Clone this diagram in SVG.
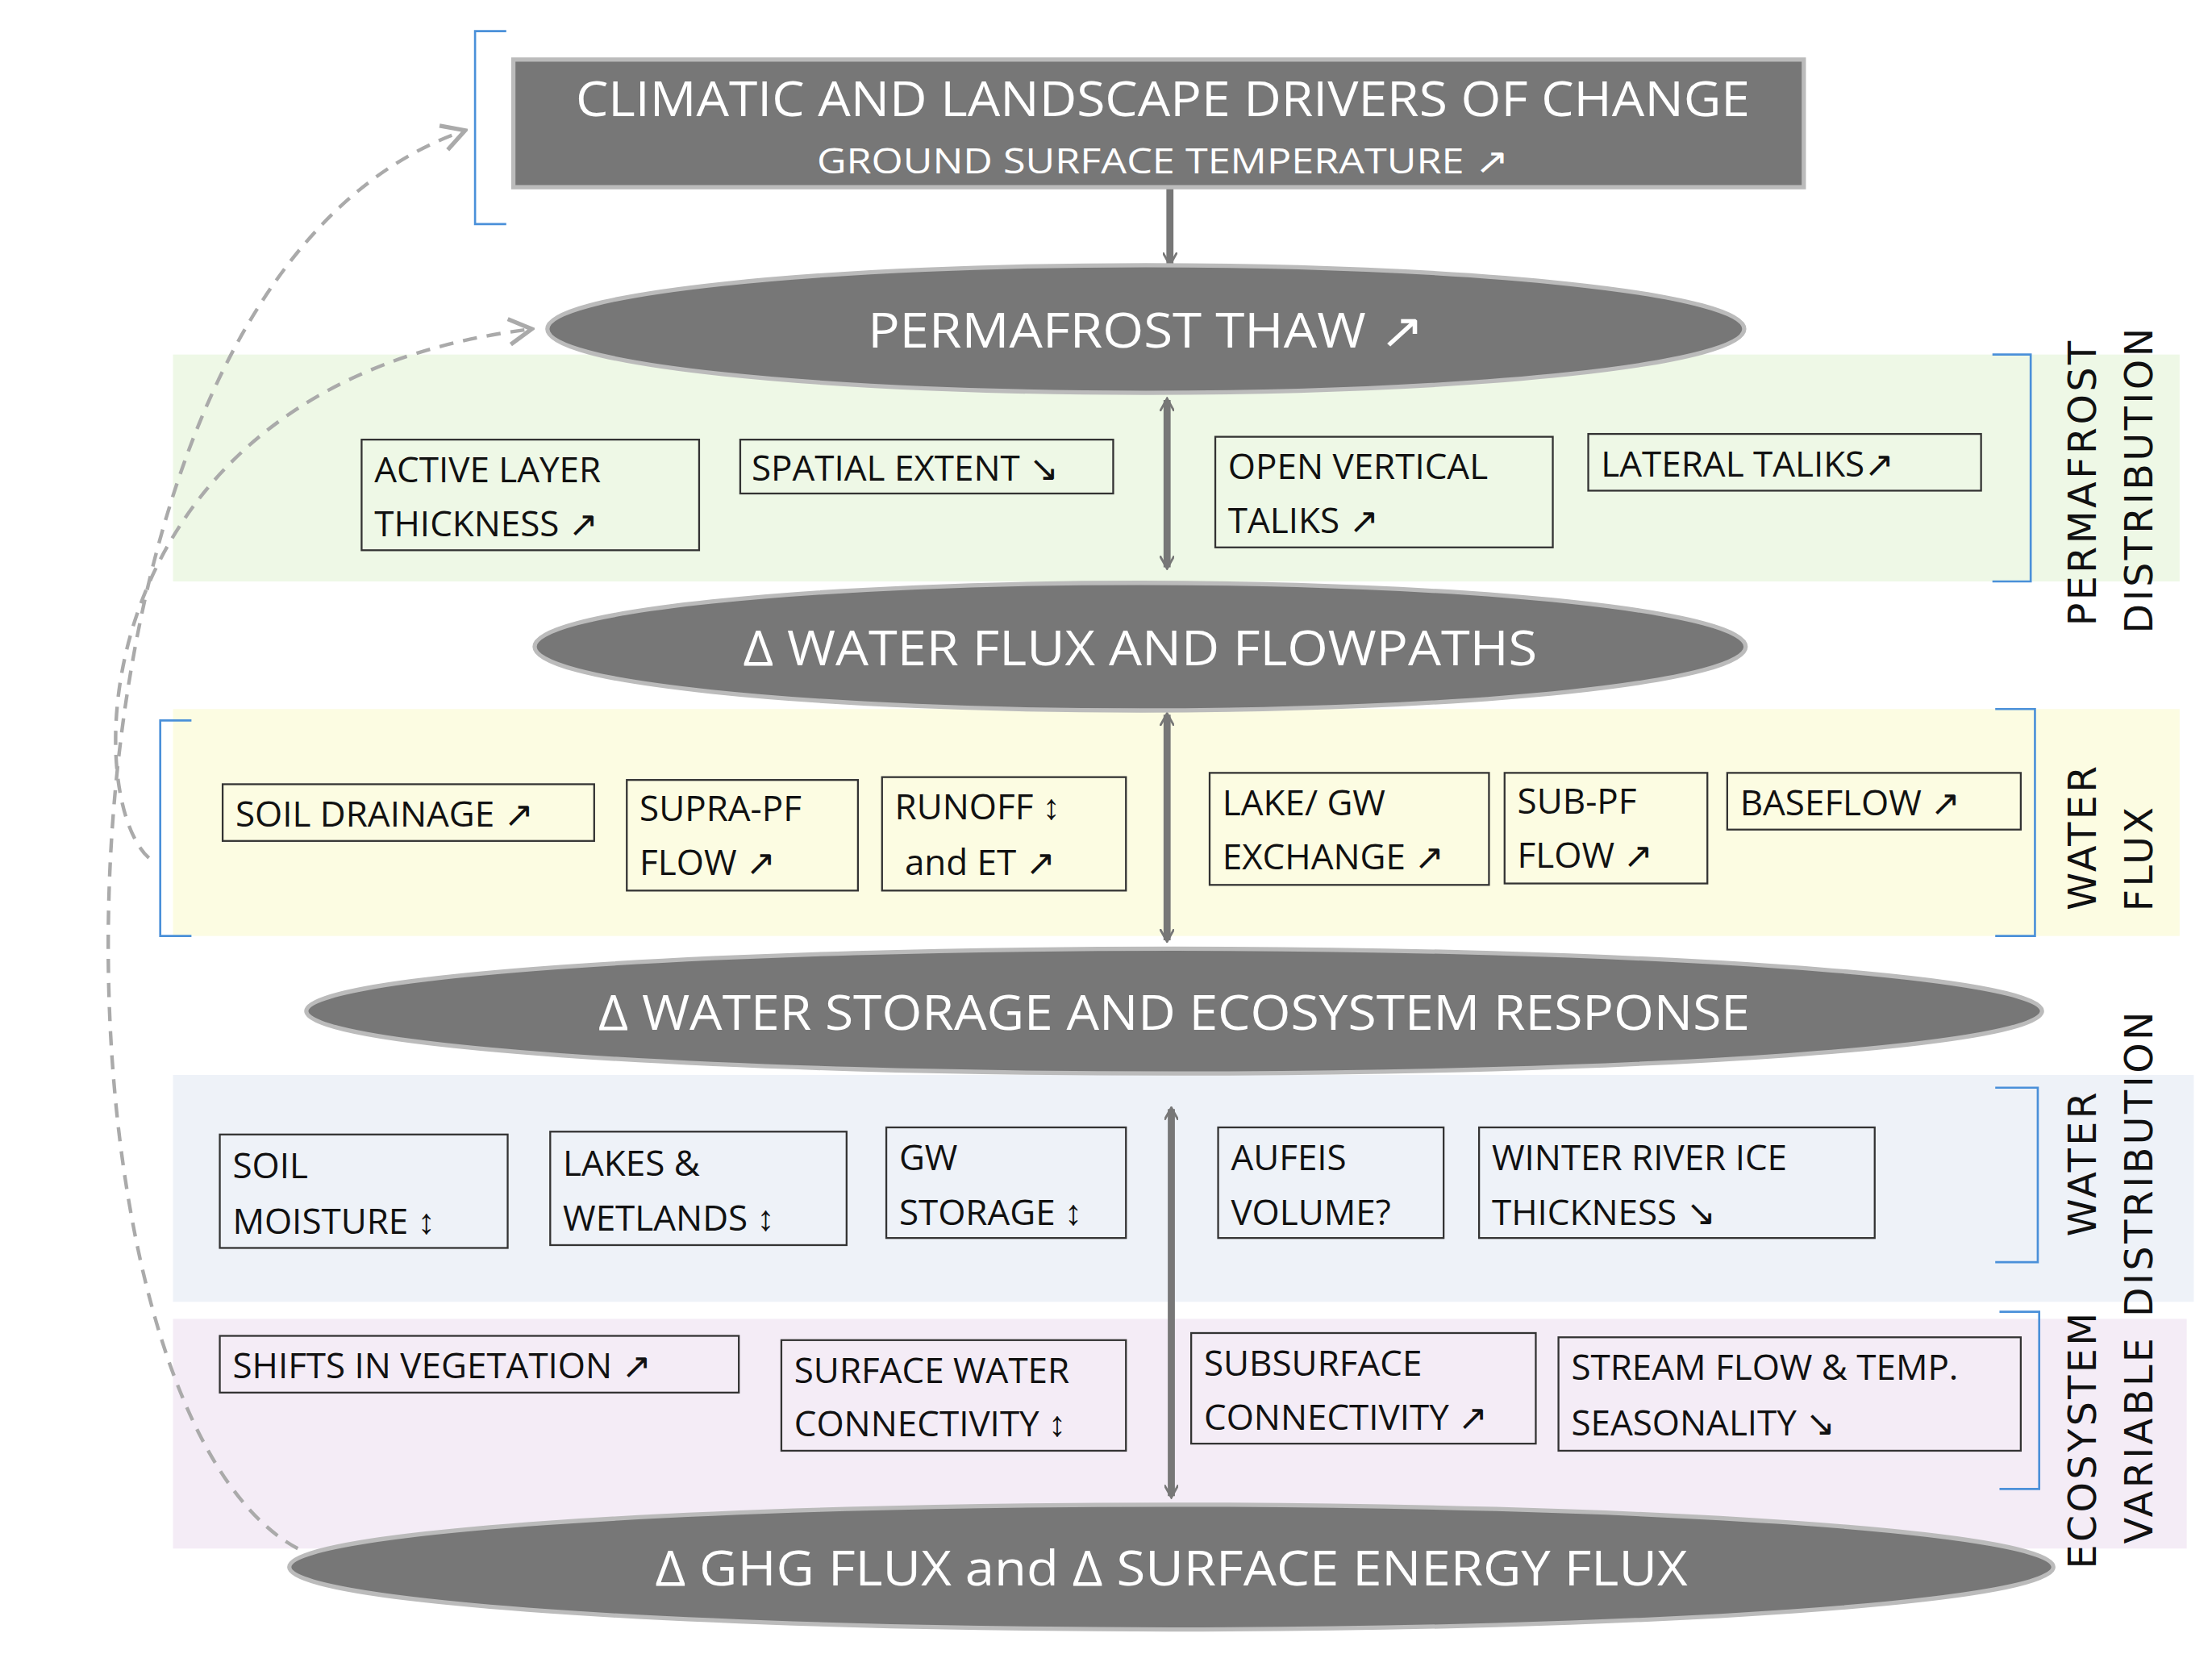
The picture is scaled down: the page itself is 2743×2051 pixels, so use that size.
<svg xmlns="http://www.w3.org/2000/svg" width="2743" height="2051" viewBox="0 0 2743 2051">
<style>
.n{fill:#777;stroke:#bbb;stroke-width:3}
.t{font-family:"Open Sans",sans-serif;fill:#fff;text-anchor:middle}
.b{fill:#fff;fill-opacity:0;stroke:#333;stroke-width:1.3}
.bt{font-family:"Open Sans",sans-serif;font-size:25px;fill:#111}
.side{font-family:"DejaVu Sans",sans-serif;font-size:27px;fill:#111;text-anchor:middle;letter-spacing:2px}
.br{fill:none;stroke:#4a90d9;stroke-width:1.5}
.ar{stroke:#777;stroke-width:5;fill:none}
.d{stroke:#aaa;stroke-width:2.5;fill:none;stroke-dasharray:10 7}
</style>
<defs>
<marker id="h" markerWidth="10" markerHeight="10" refX="8" refY="5" orient="auto-start-reverse" markerUnits="userSpaceOnUse" viewBox="0 0 10 10"><path d="M0,0 L9,5 L0,10" fill="none" stroke="#777" stroke-width="1.6"/></marker>
<marker id="hd" markerWidth="22" markerHeight="22" refX="20" refY="11" orient="auto" markerUnits="userSpaceOnUse"><path d="M4,2 L20,11 L4,20" fill="none" stroke="#aaa" stroke-width="3"/></marker>
</defs>
<g transform="scale(1.7585)">
<g id="bands">
<rect x="122" y="250" width="1415" height="160" fill="#eef8e6"/>
<rect x="122" y="500" width="1415" height="160" fill="#fcfce2"/>
<rect x="122" y="758" width="1425" height="160" fill="#eef2f8"/>
<rect x="122" y="930" width="1420" height="162" fill="#f4ecf6"/>
</g>
<g id="brackets">
<path class="br" d="M357,22 H335 V158 H357"/>
<path class="br" d="M1405,250 H1432 V410 H1405"/>
<path class="br" d="M135,508 H113 V660 H135"/>
<path class="br" d="M1407,500 H1435 V660 H1407"/>
<path class="br" d="M1407,767 H1437 V890 H1407"/>
<path class="br" d="M1410,925 H1438 V1050 H1410"/>
<text class="side" transform="translate(1478,340) rotate(-90)">PERMAFROST</text>
<text class="side" transform="translate(1518,338) rotate(-90)">DISTRIBUTION</text>
<text class="side" transform="translate(1478,590) rotate(-90)">WATER</text>
<text class="side" transform="translate(1518,605) rotate(-90)">FLUX</text>
<text class="side" transform="translate(1478,820) rotate(-90)">WATER</text>
<text class="side" transform="translate(1518,820) rotate(-90)">DISTRIBUTION</text>
<text class="side" transform="translate(1478,1015) rotate(-90)">ECOSYSTEM</text>
<text class="side" transform="translate(1518,1015) rotate(-90)">VARIABLE</text>
</g>
<g id="connectors">
<line class="ar" x1="825" y1="132" x2="825" y2="186" marker-end="url(#h)"/>
<line class="ar" x1="823" y1="282" x2="823" y2="400" marker-start="url(#h)" marker-end="url(#h)"/>
<line class="ar" x1="823" y1="504" x2="823" y2="663" marker-start="url(#h)" marker-end="url(#h)"/>
<line class="ar" x1="826" y1="782" x2="826" y2="1055" marker-start="url(#h)" marker-end="url(#h)"/>
<path class="d" d="M105,605 C55,560 60,270 375,232" marker-end="url(#hd)"/>
<path class="d" d="M210,1092 C20,990 10,200 328,92" marker-end="url(#hd)"/>
</g>
<g id="drivers">
<rect class="n" x="362" y="42" width="910" height="90" stroke="none"/>
<text class="t" x="820" y="82" font-size="34" textLength="828" lengthAdjust="spacingAndGlyphs">CLIMATIC AND LANDSCAPE DRIVERS OF CHANGE</text>
<text class="t" x="820" y="122" font-size="25" textLength="488" lengthAdjust="spacingAndGlyphs">GROUND SURFACE TEMPERATURE ↗</text>
</g>
<g id="thaw"><ellipse class="n" cx="808" cy="232" rx="422" ry="45"/>
<text class="t" x="808" y="245" font-size="34" textLength="392" lengthAdjust="spacingAndGlyphs">PERMAFROST THAW ↗</text></g>
<g id="flux"><ellipse class="n" cx="804" cy="456" rx="427" ry="45"/>
<text class="t" x="804" y="469" font-size="34" textLength="560" lengthAdjust="spacingAndGlyphs">Δ  WATER FLUX AND FLOWPATHS</text></g>
<g id="storage"><ellipse class="n" cx="828" cy="713" rx="612" ry="44"/>
<text class="t" x="828" y="726" font-size="34" textLength="812" lengthAdjust="spacingAndGlyphs">Δ WATER STORAGE AND ECOSYSTEM RESPONSE</text></g>
<g id="ghg"><ellipse class="n" cx="826" cy="1105" rx="622" ry="44"/>
<text class="t" x="826" y="1118" font-size="34" textLength="728" lengthAdjust="spacingAndGlyphs">Δ GHG FLUX  and Δ SURFACE ENERGY FLUX</text></g>
<g id="b1"><rect class="b" x="255" y="310" width="238" height="78"/><text class="bt" x="264" y="340">ACTIVE LAYER</text><text class="bt" x="264" y="378">THICKNESS ↗</text></g>
<g id="b2"><rect class="b" x="522" y="310" width="263" height="38"/><text class="bt" x="530" y="339">SPATIAL EXTENT ↘</text></g>
<g id="b3"><rect class="b" x="857" y="308" width="238" height="78"/><text class="bt" x="866" y="338">OPEN VERTICAL</text><text class="bt" x="866" y="376">TALIKS ↗</text></g>
<g id="b4"><rect class="b" x="1120" y="306" width="277" height="40"/><text class="bt" x="1129" y="336">LATERAL TALIKS↗</text></g>
<g id="b5"><rect class="b" x="157" y="553" width="262" height="40"/><text class="bt" x="166" y="583">SOIL DRAINAGE ↗</text></g>
<g id="b6"><rect class="b" x="442" y="550" width="163" height="78"/><text class="bt" x="451" y="579">SUPRA-PF</text><text class="bt" x="451" y="617">FLOW ↗</text></g>
<g id="b7"><rect class="b" x="622" y="548" width="172" height="80"/><text class="bt" x="631" y="578">RUNOFF ↕</text><text class="bt" x="638" y="617">and ET ↗</text></g>
<g id="b8"><rect class="b" x="853" y="545" width="197" height="79"/><text class="bt" x="862" y="575">LAKE/ GW</text><text class="bt" x="862" y="613">EXCHANGE ↗</text></g>
<g id="b9"><rect class="b" x="1061" y="545" width="143" height="78"/><text class="bt" x="1070" y="574">SUB-PF</text><text class="bt" x="1070" y="612">FLOW ↗</text></g>
<g id="b10"><rect class="b" x="1218" y="545" width="207" height="40"/><text class="bt" x="1227" y="575">BASEFLOW ↗</text></g>
<g id="b11"><rect class="b" x="155" y="800" width="203" height="80"/><text class="bt" x="164" y="831">SOIL</text><text class="bt" x="164" y="870">MOISTURE ↕</text></g>
<g id="b12"><rect class="b" x="388" y="798" width="209" height="80"/><text class="bt" x="397" y="829">LAKES &amp;</text><text class="bt" x="397" y="868">WETLANDS ↕</text></g>
<g id="b13"><rect class="b" x="625" y="795" width="169" height="78"/><text class="bt" x="634" y="825">GW</text><text class="bt" x="634" y="864">STORAGE ↕</text></g>
<g id="b14"><rect class="b" x="859" y="795" width="159" height="78"/><text class="bt" x="868" y="825">AUFEIS</text><text class="bt" x="868" y="864">VOLUME?</text></g>
<g id="b15"><rect class="b" x="1043" y="795" width="279" height="78"/><text class="bt" x="1052" y="825">WINTER RIVER ICE</text><text class="bt" x="1052" y="864">THICKNESS ↘</text></g>
<g id="b16"><rect class="b" x="155" y="942" width="366" height="40"/><text class="bt" x="164" y="972">SHIFTS IN VEGETATION ↗</text></g>
<g id="b17"><rect class="b" x="551" y="945" width="243" height="78"/><text class="bt" x="560" y="975">SURFACE WATER</text><text class="bt" x="560" y="1013">CONNECTIVITY ↕</text></g>
<g id="b18"><rect class="b" x="840" y="940" width="243" height="78"/><text class="bt" x="849" y="970">SUBSURFACE</text><text class="bt" x="849" y="1008">CONNECTIVITY ↗</text></g>
<g id="b19"><rect class="b" x="1099" y="943" width="326" height="80"/><text class="bt" x="1108" y="973">STREAM FLOW &amp; TEMP.</text><text class="bt" x="1108" y="1012">SEASONALITY ↘</text></g>
</g>
</svg>
